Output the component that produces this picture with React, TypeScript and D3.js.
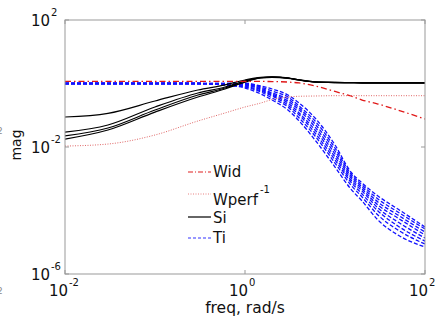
import React from "react";
import * as d3 from "d3";

// Frequency grid (rad/s) shared by every curve
const freq = [0.01, 0.03, 0.1, 0.3, 0.6, 1, 1.5, 2, 3, 4, 6, 10, 15, 20, 30, 50, 100];

// Uncertainty weight Wid
const wid = [1.16, 1.16, 1.16, 1.16, 1.16, 1.16, 1.16, 1.15, 1.11, 1.04, 0.834, 0.56, 0.404, 0.302, 0.226, 0.146, 0.0762];

// Inverse performance weight Wperf^-1
const wperfInv = [0.0107, 0.0124, 0.0239, 0.0659, 0.118, 0.182, 0.243, 0.313, 0.376, 0.396, 0.404, 0.413, 0.413, 0.413, 0.413, 0.413, 0.413];

// Input sensitivity Si for each plant
const si = [
  [0.088, 0.115, 0.281, 0.624, 0.9, 1.29, 1.55, 1.6, 1.49, 1.29, 1.11, 1.08, 1.06, 1.05, 1.05, 1.05, 1.05],
  [0.0295, 0.0493, 0.182, 0.502, 0.776, 1.2, 1.53, 1.62, 1.5, 1.3, 1.12, 1.07, 1.06, 1.05, 1.05, 1.05, 1.05],
  [0.0224, 0.0396, 0.146, 0.434, 0.721, 1.2, 1.52, 1.58, 1.48, 1.31, 1.13, 1.08, 1.06, 1.05, 1.05, 1.05, 1.05],
  [0.0178, 0.0343, 0.126, 0.376, 0.671, 1.11, 1.5, 1.55, 1.46, 1.28, 1.12, 1.07, 1.06, 1.05, 1.05, 1.05, 1.05],
];

// Input complementary sensitivity Ti for each plant
const ti = [
  [1, 1, 1, 1, 1, 1.02, 0.834, 0.671, 0.434, 0.243, 0.0819, 0.0116, 0.00163, 0.000735, 0.000286, 0.000111, 0.0000302],
  [1, 1, 1, 1, 1, 1.0, 0.776, 0.58, 0.376, 0.195, 0.0659, 0.0093, 0.00141, 0.000636, 0.00023, 0.0000897, 0.0000261],
  [1, 1, 1, 1, 0.964, 0.964, 0.721, 0.502, 0.325, 0.169, 0.053, 0.00748, 0.00122, 0.00055, 0.000185, 0.0000722, 0.000021],
  [1, 1, 1, 1, 0.964, 0.931, 0.671, 0.467, 0.281, 0.146, 0.0426, 0.00602, 0.00106, 0.000475, 0.000149, 0.000058, 0.0000169],
  [1, 1, 1, 1, 0.931, 0.898, 0.624, 0.434, 0.243, 0.118, 0.0343, 0.00484, 0.000914, 0.000411, 0.00012, 0.0000434, 0.0000136],
  [1, 1, 1, 1, 0.931, 0.834, 0.58, 0.404, 0.21, 0.102, 0.0276, 0.0039, 0.000791, 0.000331, 0.0000964, 0.0000325, 0.0000109],
  [1, 1, 1, 1, 0.898, 0.776, 0.54, 0.349, 0.182, 0.0819, 0.0222, 0.00313, 0.000636, 0.000266, 0.0000722, 0.0000243, 0.0000088],
  [1, 1, 1, 1, 0.898, 0.721, 0.467, 0.302, 0.146, 0.0659, 0.0166, 0.00234, 0.000475, 0.000199, 0.0000502, 0.0000169, 0.0000071],
];

const xTicks = [1e-2, 1e0, 1e2];
const yTicks = [1e2, 1e-2, 1e-6];
const legendItems = [
  { label: "Wid", sup: "", color: "#e02020", dash: "5,2,1,2", width: 1.2 },
  { label: "Wperf ", sup: "-1", color: "#e88080", dash: "1,1.5", width: 1 },
  { label: "Si", sup: "", color: "#000", dash: "", width: 1.2 },
  { label: "Ti", sup: "", color: "#3333ff", dash: "3,2", width: 1.2 },
];

const W = 444;
const H = 326;
const left = 65;
const right = 425;
const top = 20;
const bottom = 274;
const FONT = "DejaVu Sans, Verdana, sans-serif";

function exp10(v: number) {
  return String(Math.round(Math.log10(v)));
}

export default function App() {
  const x = d3.scaleLog().domain([1e-2, 1e2]).range([left, right]);
  const y = d3.scaleLog().domain([1e-6, 1e2]).range([bottom, top]);
  const line = d3
    .line<number>()
    .x((_, i) => x(freq[i]))
    .y((d) => y(d))
    .curve(d3.curveMonotoneX);

  return (
    <svg
      width={W}
      height={H}
      style={{ position: "absolute", left: 0, top: 0, background: "#fff" }}
      fontFamily={FONT}
    >
      <rect width={W} height={H} fill="#fff" />
      <defs>
        <clipPath id="plotArea">
          <rect x={left} y={top} width={right - left} height={bottom - top} />
        </clipPath>
      </defs>

      {/* clipped fragments of the neighbouring panel */}
      <text x={-3} y={134} fontSize={9} fill="#888">2</text>
      <text x={-3} y={294} fontSize={9} fill="#888">2</text>

      <g clipPath="url(#plotArea)">
        {ti.map((s, i) => (
          <path key={"ti" + i} d={line(s) || ""} fill="none" stroke="#1010ff" strokeWidth={1.3} strokeDasharray="4,2" />
        ))}
        {si.map((s, i) => (
          <path key={"si" + i} d={line(s) || ""} fill="none" stroke="#000" strokeWidth={1.2} />
        ))}
        <path d={line(wperfInv) || ""} fill="none" stroke="#e06666" strokeWidth={1} strokeDasharray="1,1.5" />
        <path d={line(wid) || ""} fill="none" stroke="#e01818" strokeWidth={1.3} strokeDasharray="6,3,1.5,3" />
      </g>

      {/* frame */}
      <rect x={left} y={top} width={right - left} height={bottom - top} fill="none" stroke="#999" strokeWidth={1} />
      {xTicks.map((t) => (
        <g key={"xt" + t} stroke="#999">
          <line x1={x(t)} x2={x(t)} y1={bottom} y2={bottom - 4} />
          <line x1={x(t)} x2={x(t)} y1={top} y2={top + 4} />
        </g>
      ))}
      {yTicks.map((t) => (
        <g key={"yt" + t} stroke="#999">
          <line x1={left} x2={left + 4} y1={y(t)} y2={y(t)} />
          <line x1={right} x2={right - 4} y1={y(t)} y2={y(t)} />
        </g>
      ))}

      {/* tick labels */}
      {yTicks.map((t) => (
        <g key={"yl" + t} fill="#111">
          <text x={50} y={y(t) + 6} fontSize={15} textAnchor="end">10</text>
          <text x={51} y={y(t) - 4} fontSize={10}>{exp10(t)}</text>
        </g>
      ))}
      {xTicks.map((t) => (
        <g key={"xl" + t} fill="#111">
          <text x={x(t) + 3} y={296} fontSize={15} textAnchor="end">10</text>
          <text x={x(t) + 4} y={286} fontSize={10}>{exp10(t)}</text>
        </g>
      ))}

      {/* axis titles */}
      <text x={245} y={313} fontSize={15.5} textAnchor="middle" fill="#111">freq, rad/s</text>
      <text transform="translate(21,145) rotate(-90)" fontSize={14} textAnchor="middle" fill="#111">mag</text>

      {/* legend */}
      {legendItems.map((it, i) => {
        const ly = [172, 194, 217, 238][i];
        const ty = [177, 205, 223, 243][i];
        return (
          <g key={it.label}>
            <line x1={188} x2={211} y1={ly} y2={ly} stroke={it.color} strokeWidth={it.width} strokeDasharray={it.dash} />
            <text x={213} y={ty} fontSize={15} fill="#111">
              {it.label}
            </text>
            {it.sup && (
              <text x={260} y={193} fontSize={10} fill="#111">
                {it.sup}
              </text>
            )}
          </g>
        );
      })}
    </svg>
  );
}
